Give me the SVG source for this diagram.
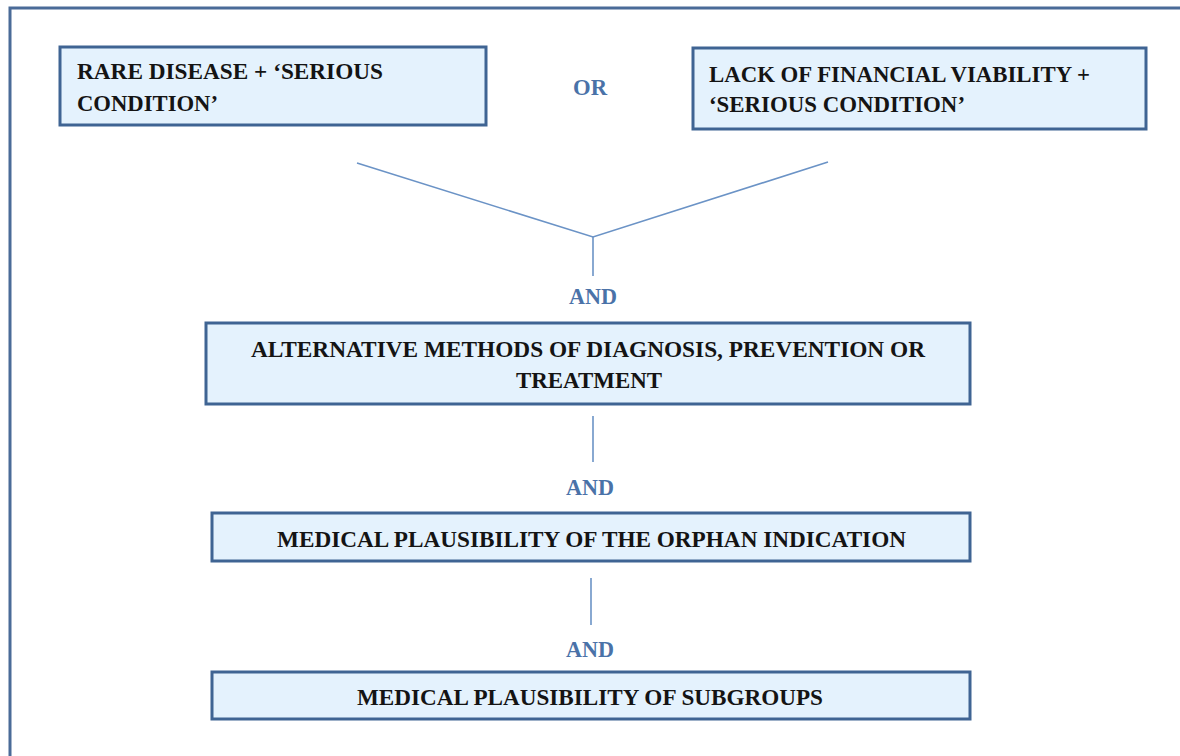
<svg xmlns="http://www.w3.org/2000/svg" width="1180" height="756" viewBox="0 0 1180 756">
  <style>
    .frame { fill: none; stroke: #4a6b98; stroke-width: 3; }
    .box { fill: #e4f2fd; stroke: #3f6493; stroke-width: 3; }
    .lbl { font-family: "Liberation Serif", "Times New Roman", serif; font-weight: bold; font-size: 24px; fill: #141414; }
    .op { font-family: "Liberation Serif", "Times New Roman", serif; font-weight: bold; font-size: 23px; fill: #4a72a8; text-anchor: middle; }
    .link { fill: none; stroke: #6b93c6; stroke-width: 1.6; }
  </style>

  <!-- outer frame, running past the right and bottom edges -->
  <rect class="frame" x="10" y="8" width="1200" height="800"/>

  <g id="connectors">
    <polyline class="link" points="357,163 593,237 828,162"/>
    <line class="link" x1="593" y1="237" x2="593" y2="276"/>
    <line class="link" x1="593" y1="416" x2="593" y2="462"/>
    <line class="link" x1="591" y1="578" x2="591" y2="625"/>
  </g>

  <g id="rare-disease">
    <rect class="box" x="60" y="47" width="426" height="78"/>
    <text class="lbl" x="77" y="79" textLength="306" lengthAdjust="spacingAndGlyphs">RARE DISEASE + ‘SERIOUS</text>
    <text class="lbl" x="77" y="111" textLength="141" lengthAdjust="spacingAndGlyphs">CONDITION’</text>
  </g>

  <g id="or-label">
    <text class="op" x="590" y="95" textLength="34" lengthAdjust="spacingAndGlyphs">OR</text>
  </g>

  <g id="financial-viability">
    <rect class="box" x="693" y="48" width="453" height="81"/>
    <text class="lbl" x="709" y="82" textLength="381" lengthAdjust="spacingAndGlyphs">LACK OF FINANCIAL VIABILITY +</text>
    <text class="lbl" x="709" y="112" textLength="256" lengthAdjust="spacingAndGlyphs">‘SERIOUS CONDITION’</text>
  </g>

  <g id="and-1">
    <text class="op" x="593" y="304" textLength="48" lengthAdjust="spacingAndGlyphs">AND</text>
  </g>

  <g id="alternative-methods">
    <rect class="box" x="206" y="323" width="764" height="81"/>
    <text class="lbl" x="251" y="357" textLength="674" lengthAdjust="spacingAndGlyphs">ALTERNATIVE METHODS OF DIAGNOSIS, PREVENTION OR</text>
    <text class="lbl" x="516" y="388" textLength="146" lengthAdjust="spacingAndGlyphs">TREATMENT</text>
  </g>

  <g id="and-2">
    <text class="op" x="590" y="495" textLength="48" lengthAdjust="spacingAndGlyphs">AND</text>
  </g>

  <g id="orphan-indication">
    <rect class="box" x="212" y="513" width="758" height="48"/>
    <text class="lbl" x="277" y="547" textLength="629" lengthAdjust="spacingAndGlyphs">MEDICAL PLAUSIBILITY OF THE ORPHAN INDICATION</text>
  </g>

  <g id="and-3">
    <text class="op" x="590" y="657" textLength="48" lengthAdjust="spacingAndGlyphs">AND</text>
  </g>

  <g id="subgroups">
    <rect class="box" x="212" y="672" width="758" height="47"/>
    <text class="lbl" x="357" y="705" textLength="466" lengthAdjust="spacingAndGlyphs">MEDICAL PLAUSIBILITY OF SUBGROUPS</text>
  </g>
</svg>
